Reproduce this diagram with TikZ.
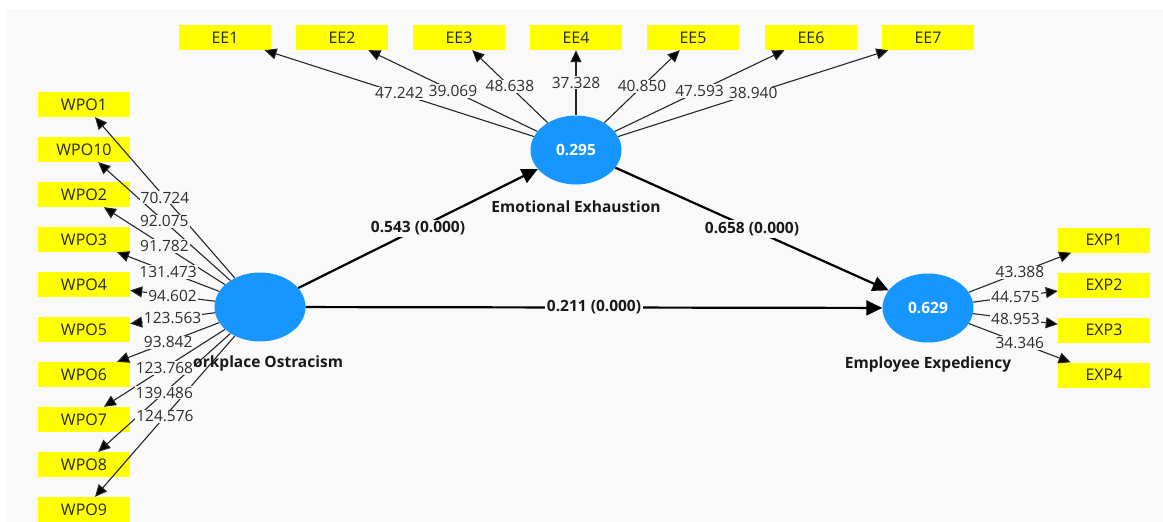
\documentclass[tikz,border=0pt]{standalone}
\usepackage{fontspec}
\setmainfont{Open Sans}
\usetikzlibrary{arrows.meta,shapes.geometric}
\definecolor{panel}{HTML}{F9F9F9}
\definecolor{lvblue}{RGB}{24,150,255}
\definecolor{boxyellow}{HTML}{FFFF00}
\definecolor{labelgray}{HTML}{2E2E2E}
\begin{document}
\begin{tikzpicture}[x=1pt,y=-1pt,
  ind/.style={fill=boxyellow, minimum width=92pt, minimum height=25pt, inner sep=0pt, font=\fontsize{16}{18}\selectfont, text=black!85},
  lv/.style={ellipse, fill=lvblue, minimum width=91pt, minimum height=69pt, inner sep=0pt, text=white, font=\fontsize{15.5}{17}\selectfont\bfseries},
  load/.style={draw=black!85, line width=1.1pt, -{Triangle[length=12pt,width=11pt,fill=black]}},
  struct/.style={draw=black, line width=2.2pt, -{Triangle[length=16pt,width=15pt]}},
  lbl/.style={fill=panel, inner sep=1pt, text=labelgray, font=\fontsize{15.5}{17}\selectfont},
  plbl/.style={fill=panel, inner sep=2pt, text=black!90, font=\fontsize{15.5}{17}\selectfont\bfseries},
  lvname/.style={text=black!90, inner sep=0pt, font=\fontsize{15.5}{17}\selectfont\bfseries}
]
\useasboundingbox (0,0) rectangle (1163,522);
\fill[panel] (7,9) rectangle (1163,522);

% latent variables
\node[lv] (wpo) at (260,307) {};
\node[lv] (ee) at (576,150) {0.295};
\node[lv] (exp) at (928,308) {0.629};

% indicators
\foreach \i/\y in {1/104.5,10/149.5,2/194.5,3/239.5,4/284.5,5/329.5,6/374.5,7/419.5,8/464.5,9/509.5}
  \node[ind] (wpo\i) at (84,\y) {WPO\i};
\foreach \i/\x in {1/225,2/342,3/459,4/576,5/693,6/811,7/928}
  \node[ind] (ee\i) at (\x,37.5) {EE\i};
\foreach \i/\y in {1/240,2/285,3/330,4/375}
  \node[ind] (exp\i) at (1104,\y) {EXP\i};

% loading connectors
\foreach \i in {1,10,2,3,4,5,6,7,8,9}
  \draw[load] (wpo) -- (wpo\i) coordinate[midway] (mw\i);
\foreach \i in {1,...,7}
  \draw[load] (ee) -- (ee\i) coordinate[midway] (me\i);
\foreach \i in {1,...,4}
  \draw[load] (exp) -- (exp\i) coordinate[midway] (mx\i);

% structural paths
\draw[struct] (wpo) -- (ee) node[midway, plbl] (p1) {0.543 (0.000)};
\draw[struct] (ee) -- (exp) node[midway, plbl] (p2) {0.658 (0.000)};
\draw[struct] (wpo) -- (exp) node[midway, plbl] (p3) {0.211 (0.000)};

% loading labels
\foreach \i/\v in {1/70.724,10/92.075,2/91.782,3/131.473,4/94.602,5/123.563,6/93.842,7/123.768,8/139.486,9/124.576}
  \node[lbl] (lw\i) at (mw\i) {\v};
\foreach \i/\v in {1/47.242,2/39.069,3/48.638,4/37.328,5/40.850,6/47.593,7/38.940}
  \node[lbl] (le\i) at (me\i) {\v};
\foreach \i/\v in {1/43.388,2/44.575,3/48.953,4/34.346}
  \node[lbl] (lx\i) at (mx\i) {\v};

% names
\node[lvname] (nee) at (576,207) {Emotional Exhaustion};
\node[lvname] (nexp) at (928,364) {Employee Expediency};
\node[lvname, anchor=west] (nwpo) at (193,363) {orkplace Ostracism};
\end{tikzpicture}
\end{document}
